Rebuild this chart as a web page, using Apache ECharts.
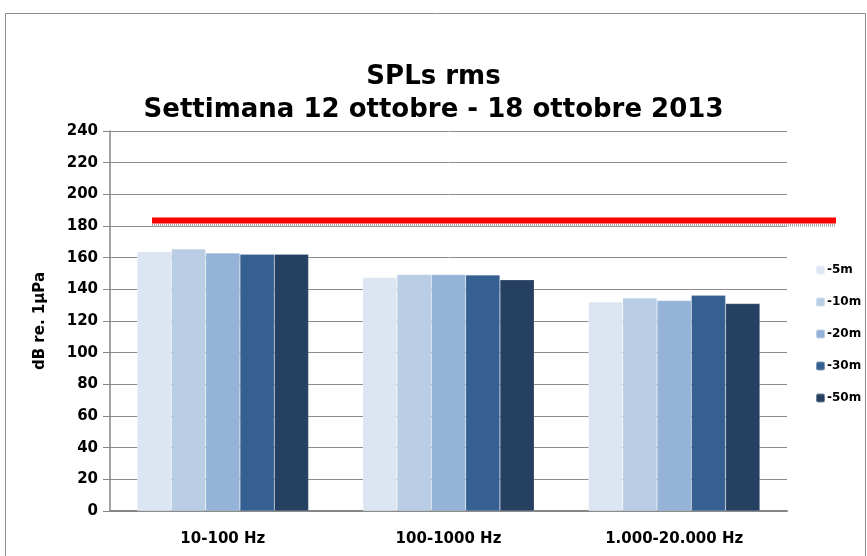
<!DOCTYPE html>
<html>
<head>
<meta charset="utf-8">
<script src="https://cdn.jsdelivr.net/npm/echarts@6/dist/echarts.min.js"></script>
<style>
  html, body { margin: 0; padding: 0; background: #fff; }
  #main { width: 867px; height: 556px; }
</style>
</head>
<body>
<div id="main"></div>
<script>
const bande = ['10-100 Hz', '100-1000 Hz', '1.000-20.000 Hz'];
const profondita = ['-5m', '-10m', '-20m', '-30m', '-50m'];
const m5 = [163.8, 147.4, 132.0];
const m10 = [165.5, 149.3, 134.5];
const m20 = [163.0, 149.3, 132.9];
const m30 = [162.2, 149.1, 136.2];
const m50 = [162.2, 146.0, 131.0];
const soglia = [183.5, 183.5];
const yTicks = [0, 20, 40, 60, 80, 100, 120, 140, 160, 180, 200, 220, 240];

const colori = ['#DCE6F2', '#B9CDE5', '#95B3D7', '#376092', '#254061'];
const valori = [m5, m10, m20, m30, m50];
const font = '"DejaVu Sans", sans-serif';

const myChart = echarts.init(document.getElementById('main'));

const option = {
    animation: false,
    color: colori,
    textStyle: { fontFamily: font },
    title: {
        text: 'SPLs rms\nSettimana 12 ottobre - 18 ottobre 2013',
        left: 'center',
        top: 56,
        textStyle: {
            fontFamily: font,
            fontSize: 26,
            fontWeight: 'bold',
            color: '#000',
            lineHeight: 33
        }
    },
    graphic: [{
        type: 'rect',
        shape: { x: 5.5, y: 13.5, width: 860, height: 560 },
        style: { fill: 'none', stroke: '#8c8c8c', lineWidth: 1 },
        silent: true
    }],
    legend: {
        data: profondita,
        orient: 'vertical',
        left: 810,
        top: 259,
        itemWidth: 9,
        itemHeight: 9,
        itemGap: 20,
        textStyle: { fontFamily: font, fontSize: 12, fontWeight: 'bold', color: '#000', padding: [0, 0, 0, -3] }
    },
    grid: [
        { left: 110, right: 80, top: 131, bottom: 45 },
        { left: 152, right: 31, top: 131, bottom: 45 }
    ],
    xAxis: [{
        type: 'category',
        gridIndex: 0,
        data: bande,
        axisLine: { lineStyle: { color: '#868686', width: 2 } },
        axisTick: { show: false },
        axisLabel: { fontFamily: font, fontSize: 15, fontWeight: 'bold', color: '#000', margin: 21 }
    }, {
        type: 'category',
        gridIndex: 1,
        data: ['a', 'b'],
        boundaryGap: false,
        show: false
    }],
    yAxis: [{
        type: 'value',
        gridIndex: 0,
        min: yTicks[0],
        max: yTicks[yTicks.length - 1],
        interval: 20,
        name: 'dB re. 1μPa',
        nameLocation: 'middle',
        nameGap: 62,
        nameTextStyle: { fontFamily: font, fontSize: 15, fontWeight: 'bold', color: '#000' },
        axisLine: { show: true, lineStyle: { color: '#868686', width: 1.5 } },
        axisTick: { show: true, length: 7, lineStyle: { color: '#868686' } },
        axisLabel: { fontFamily: font, fontSize: 15, fontWeight: 'bold', color: '#000', margin: 12 },
        splitLine: { lineStyle: { color: '#8c8c8c', width: 1 } }
    }, {
        type: 'value',
        gridIndex: 1,
        min: yTicks[0],
        max: yTicks[yTicks.length - 1],
        show: false,
        splitLine: { show: false }
    }],
    series: profondita.map((nome, i) => ({
        name: nome,
        type: 'bar',
        xAxisIndex: 0,
        yAxisIndex: 0,
        data: valori[i],
        barGap: '0%',
        barCategoryGap: '24%',
        itemStyle: { borderColor: 'rgba(255,255,255,0.35)', borderWidth: 0.5 }
    })).concat([{
        name: 'ombra',
        type: 'line',
        xAxisIndex: 1,
        yAxisIndex: 1,
        data: soglia.map(v => v - 3),
        symbol: 'none',
        silent: true,
        z: 3,
        lineStyle: { color: '#a8a8a8', width: 3, type: [1, 1] }
    }, {
        name: 'soglia',
        type: 'line',
        xAxisIndex: 1,
        yAxisIndex: 1,
        data: soglia,
        symbol: 'none',
        silent: true,
        z: 4,
        lineStyle: { color: '#ff0000', width: 6 }
    }])
};

myChart.setOption(option);
</script>
</body>
</html>
